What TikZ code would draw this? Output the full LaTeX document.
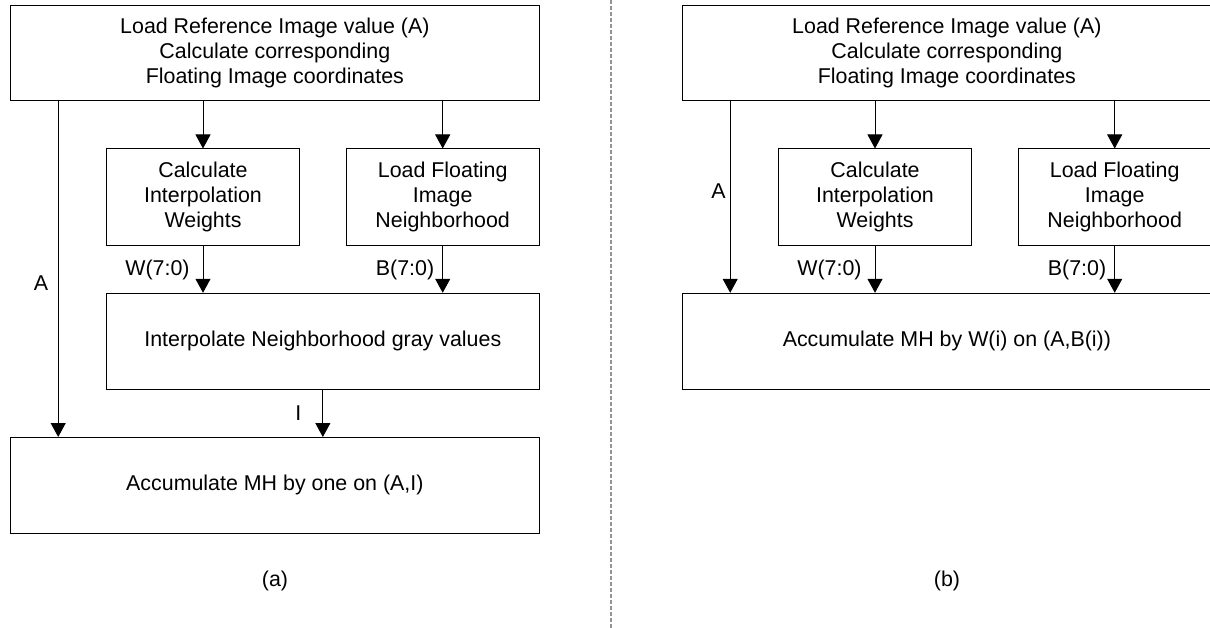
\documentclass[tikz,border=0pt]{standalone}
\usepackage{fontspec}
\setmainfont{Liberation Sans}
\usetikzlibrary{arrows.meta,calc}
\begin{document}
\begin{tikzpicture}[x=1pt,y=-1pt,
  box/.style={draw=black,line width=1pt,align=center,inner sep=0pt,font=\fontsize{21.4}{25}\selectfont},
  lbl/.style={inner sep=0pt,font=\fontsize{21.4}{25}\selectfont},
  arr/.style={line width=1pt,-{Triangle[width=15pt,length=14pt]}},
  sep/.style={draw=gray!85,line width=2pt,dash pattern=on 4pt off 2pt}]
\clip (0,0) rectangle (1210,628);
% ---------- panel (a) ----------
\node[box,minimum width=528.3pt,minimum height=94.7pt] (atop) at (274.85,53.35)
  {Load Reference Image value (A)\\Calculate corresponding\\Floating Image coordinates};
\node[box,minimum width=192.6pt,minimum height=96.3pt] (acalc) at (203,197.15)
  {Calculate\\Interpolation\\Weights};
\node[box,minimum width=192.6pt,minimum height=96.3pt] (aload) at (442.7,197.15)
  {Load Floating\\Image\\Neighborhood};
\node[box,minimum width=432.3pt,minimum height=96pt] (ainterp) at (322.85,341.3)
  {Interpolate Neighborhood gray values};
\node[box,minimum width=528.3pt,minimum height=95.5pt] (aacc) at (274.85,485.25)
  {Accumulate MH by one on (A,I)};
\draw[arr] ([xshift=48pt]atop.south west) -- ([xshift=48pt]aacc.north west);
\draw[arr] (atop.south -| acalc.north) -- (acalc.north);
\draw[arr] (atop.south -| aload.north) -- (aload.north);
\draw[arr] (acalc.south) -- (acalc.south |- ainterp.north);
\draw[arr] (aload.south) -- (aload.south |- ainterp.north);
\draw[arr] (ainterp.south) -- (ainterp.south |- aacc.north);
\node[lbl] (aA) at (41,283) {A};
\node[lbl] (aW) at (157.5,270) {W(7:0)};
\node[lbl] (aB) at (405,270) {B(7:0)};
\node[lbl] (aI) at (298.3,413) {I};
\node[lbl] (acap) at (275,581) {(a)};
% ---------- separator ----------
\coordinate (s1) at (610.7,0);
\coordinate (s2) at (610.7,628);
\draw[sep] (s1) -- (s2);
% ---------- panel (b) ----------
\node[box,minimum width=528.3pt,minimum height=94.7pt] (btop) at (946.85,53.35)
  {Load Reference Image value (A)\\Calculate corresponding\\Floating Image coordinates};
\node[box,minimum width=192.6pt,minimum height=96.3pt] (bcalc) at (875,197.15)
  {Calculate\\Interpolation\\Weights};
\node[box,minimum width=192.6pt,minimum height=96.3pt] (bload) at (1114.7,197.15)
  {Load Floating\\Image\\Neighborhood};
\node[box,minimum width=528.3pt,minimum height=96pt] (bacc) at (946.85,341.3)
  {Accumulate MH by W(i) on (A,B(i))};
\draw[arr] ([xshift=48pt]btop.south west) -- ([xshift=48pt]bacc.north west);
\draw[arr] (btop.south -| bcalc.north) -- (bcalc.north);
\draw[arr] (btop.south -| bload.north) -- (bload.north);
\draw[arr] (bcalc.south) -- (bcalc.south |- bacc.north);
\draw[arr] (bload.south) -- (bload.south |- bacc.north);
\node[lbl] (bA) at (718.5,191) {A};
\node[lbl] (bW) at (829.5,270) {W(7:0)};
\node[lbl] (bB) at (1077,270) {B(7:0)};
\node[lbl] (bcap) at (947,581) {(b)};
\end{tikzpicture}
\end{document}
